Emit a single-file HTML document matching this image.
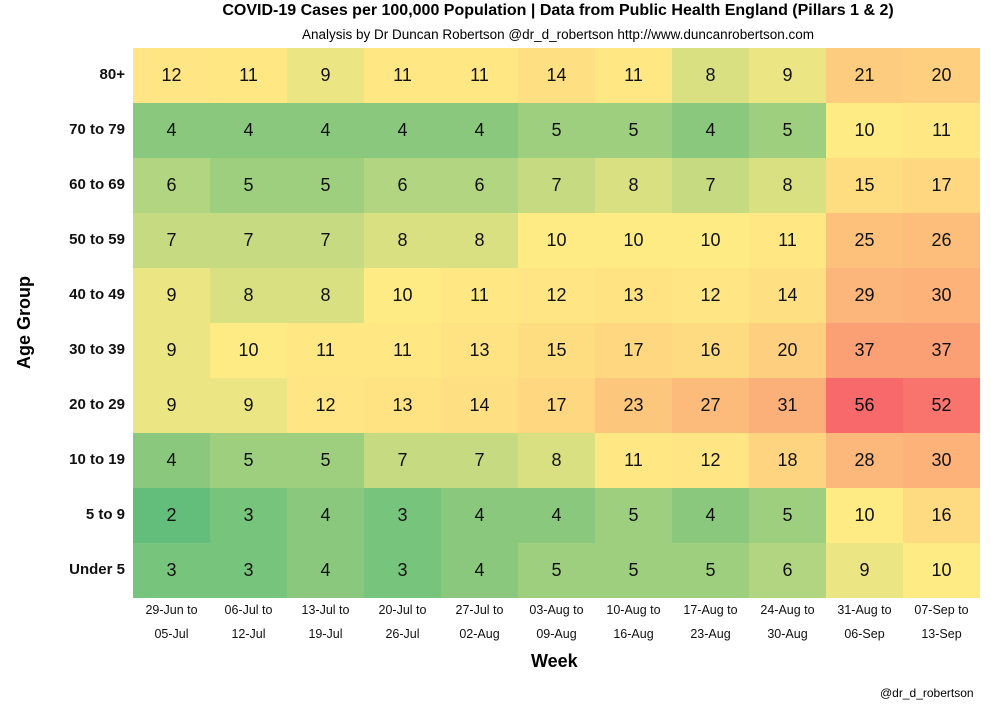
<!DOCTYPE html>
<html><head><meta charset="utf-8"><style>
body{margin:0;background:#fff;width:991px;height:705px;overflow:hidden;font-family:"Liberation Sans",sans-serif;position:relative}
.t{position:absolute;white-space:nowrap}
#g{position:absolute;left:133px;top:48px}
.c{position:absolute;width:77px;height:55px;line-height:55px;text-align:center;font-size:18px;color:#111}
.yl{position:absolute;right:866px;font-size:15px;font-weight:bold;color:#111}
.xl{position:absolute;width:77px;text-align:center;font-size:12.5px;color:#111;line-height:24px}
</style></head><body>
<div class="t" style="left:0;width:1116px;text-align:center;top:2px;font-size:16px;font-weight:bold">COVID-19 Cases per 100,000 Population | Data from Public Health England (Pillars 1 &amp; 2)</div>
<div class="t" style="left:0;width:1116px;text-align:center;top:27px;font-size:13.5px">Analysis by Dr Duncan Robertson @dr_d_robertson http://www.duncanrobertson.com</div>
<div class="t" style="left:-22px;top:312px;transform:rotate(-90deg);font-size:18px;font-weight:bold">Age Group</div>
<div class="t" style="left:531px;top:651px;font-size:18px;font-weight:bold">Week</div>
<div class="t" style="left:880px;top:686px;font-size:12px">@dr_d_robertson</div>
<div id="g"></div>
<script>
var rows=["80+","70 to 79","60 to 69","50 to 59","40 to 49","30 to 39","20 to 29","10 to 19","5 to 9","Under 5"];
var d=[[12,11,9,11,11,14,11,8,9,21,20],[4,4,4,4,4,5,5,4,5,10,11],[6,5,5,6,6,7,8,7,8,15,17],[7,7,7,8,8,10,10,10,11,25,26],[9,8,8,10,11,12,13,12,14,29,30],[9,10,11,11,13,15,17,16,20,37,37],[9,9,12,13,14,17,23,27,31,56,52],[4,5,5,7,7,8,11,12,18,28,30],[2,3,4,3,4,4,5,4,5,10,16],[3,3,4,3,4,5,5,5,6,9,10]];
var w1=["29-Jun","06-Jul","13-Jul","20-Jul","27-Jul","03-Aug","10-Aug","17-Aug","24-Aug","31-Aug","07-Sep"],w2=["05-Jul","12-Jul","19-Jul","26-Jul","02-Aug","09-Aug","16-Aug","23-Aug","30-Aug","06-Sep","13-Sep"];
function mix(a,b,t){return a.map((v,i)=>Math.round(v+(b[i]-v)*t));}
var G=[99,190,123],Y=[255,235,132],R=[248,105,107];
function col(v){var c=v<=10?mix(G,Y,(v-2)/8):mix(Y,R,(v-10)/46);return "rgb("+c.join(",")+")";}
var g=document.getElementById('g'),h="";
for(var r=0;r<10;r++){for(var c=0;c<11;c++)h+='<div class="c" style="left:'+c*77+'px;top:'+r*55+'px;background:'+col(d[r][c])+'">'+d[r][c]+'</div>';}
g.innerHTML=h;
var b="";
for(var r=0;r<10;r++)b+='<div class="t yl" style="top:'+(48+r*55+18)+'px">'+rows[r]+'</div>';
for(var c=0;c<11;c++)b+='<div class="t xl" style="left:'+(133+c*77)+'px;top:598px">'+w1[c]+' to<br>'+w2[c]+'</div>';
document.body.insertAdjacentHTML('beforeend',b);
</script>
</body></html>
